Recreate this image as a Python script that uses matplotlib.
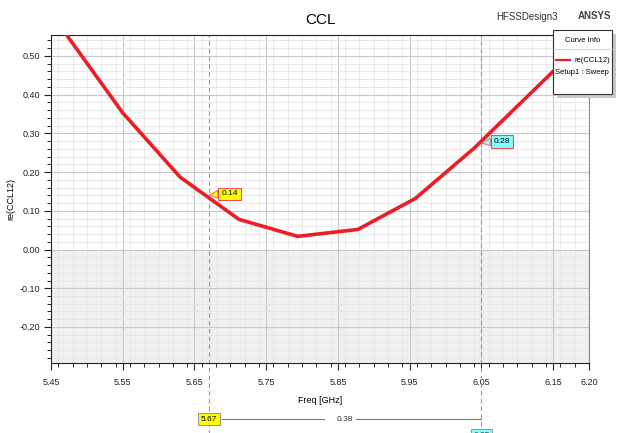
import matplotlib.pyplot as plt
import numpy as np
from matplotlib.patches import Rectangle
from matplotlib.ticker import MultipleLocator

plt.rcParams['font.family'] = ['Liberation Sans', 'DejaVu Sans']

# swept points of re(CCL12)
freq = [5.45, 5.55, 5.63, 5.712, 5.794, 5.878, 5.958, 6.04, 6.12, 6.20]
re_ccl12 = [0.61, 0.353, 0.187, 0.078, 0.034, 0.052, 0.132, 0.262, 0.406, 0.55]

# markers
m1_x, m1_y = 5.67, 0.14
m2_x, m2_y = 6.05, 0.28

fig = plt.figure(figsize=(6.25, 4.33), dpi=100)
ax = fig.add_axes([51 / 625, 1 - 363 / 433, 538 / 625, 328 / 433])

ax.set_xlim(5.45, 6.20)
ax.set_ylim(-0.293, 0.554)

# grey area below zero
ax.axhspan(-1, 0, color='#f0f0f0', zorder=0)

ax.set_xticks([5.45, 5.55, 5.65, 5.75, 5.85, 5.95, 6.05, 6.15, 6.20])
ax.set_xticklabels(['5.45', '5.55', '5.65', '5.75', '5.85', '5.95', '6.05', '6.15', '6.20'])
ax.xaxis.set_minor_locator(MultipleLocator(0.02))
ax.set_yticks([-0.2, -0.1, 0.0, 0.1, 0.2, 0.3, 0.4, 0.5])
ax.set_yticklabels(['-0.20', '-0.10', '0.00', '0.10', '0.20', '0.30', '0.40', '0.50'])
ax.yaxis.set_minor_locator(MultipleLocator(0.02))
ax.tick_params(which='major', direction='out', length=5, width=0.8, labelsize=6.5,
               colors='#222222', pad=3)
ax.tick_params(which='minor', direction='out', length=3, width=0.6)
ax.tick_params(axis='x', which='major', pad=6)
ax.grid(which='major', color='#c8c8c8', lw=0.8, zorder=0.5)
ax.grid(which='minor', color='#e6e6e6', lw=0.6, zorder=0.4)
ax.set_axisbelow(True)
for side in ('left', 'bottom', 'top'):
    ax.spines[side].set_color('#222222')
ax.spines['right'].set_color('#888888')

ax.plot(freq, re_ccl12, color='#ee1c25', lw=2.6, zorder=3, solid_joinstyle='miter')

ax.set_xlabel('Freq [GHz]', fontsize=6.5, labelpad=6)
ax.set_ylabel('re(CCL12)', fontsize=6.5)
ax.yaxis.set_label_coords(-0.066, 0.5)
ax.set_title('CCL', fontsize=11, pad=8)

# marker lines
for mx in (m1_x, m2_x):
    ax.axvline(mx, ymin=-0.215, ymax=1, color='#999999', lw=0.8, ls=(0, (4, 3)),
               clip_on=False, zorder=2)

# marker value flags with a wedge pointing at the curve
for (mx, my, col, dy) in ((m1_x, m1_y, '#ffff00', 0.0), (m2_x, m2_y, '#80ffff', -0.005)):
    ax.annotate(f'{my:.2f}', xy=(mx, my + dy), xytext=(9, 1), textcoords='offset points',
                fontsize=6, va='center', ha='left', zorder=5,
                bbox=dict(boxstyle='square,pad=0.35', fc=col, ec='#ee5050', lw=0.8),
                arrowprops=dict(arrowstyle='wedge,tail_width=0.9,shrink_factor=0.5',
                                fc=col, ec='#ee5050', lw=0.6, relpos=(0, 0.5),
                                shrinkA=0, shrinkB=0))

# delta marker below the axis
yb = -0.171
ax.plot([m1_x + 0.018, 5.83], [yb, yb], transform=ax.get_xaxis_transform(),
        color='#777777', lw=0.8, clip_on=False)
ax.plot([5.875, m2_x], [yb, yb], transform=ax.get_xaxis_transform(),
        color='#777777', lw=0.8, clip_on=False)
ax.text((m1_x + m2_x) / 2, yb, f'{m2_x - m1_x:.2f}', transform=ax.get_xaxis_transform(),
        fontsize=6, ha='center', va='center', color='#333333')
ax.text(m1_x, yb, f'{m1_x:.2f}', transform=ax.get_xaxis_transform(), fontsize=6,
        ha='center', va='center',
        bbox=dict(boxstyle='square,pad=0.3', fc='#ffff00', ec='#999999', lw=0.8))
ax.text(m2_x, -0.22, f'{m2_x:.2f}', transform=ax.get_xaxis_transform(), fontsize=6,
        ha='center', va='center', color='#333333',
        bbox=dict(boxstyle='square,pad=0.3', fc='#80ffff', ec='#999999', lw=0.8))

# header texts
fig.text(527 / 625, 1 - 17 / 433, 'HFSSDesign3', fontsize=7, ha='center', va='center',
         color='#333333')
fig.text(595 / 625, 1 - 16 / 433, 'ANSYS', fontsize=7, ha='center', va='center',
         color='#444444', weight='bold')

# curve info box
lx0, ly0, lw_, lh = 553 / 625, 1 - 94 / 433, 59 / 625, 64 / 433
fig.patches.append(Rectangle((lx0 + 4 / 625, ly0 - 4 / 433), lw_, lh, transform=fig.transFigure,
                             fc='#c8c8c8', ec='none', zorder=9))
fig.patches.append(Rectangle((lx0, ly0), lw_, lh, transform=fig.transFigure,
                             fc='white', ec='#333333', lw=0.8, zorder=10))
fig.text(lx0 + lw_ / 2, 1 - 41 / 433, 'Curve Info', fontsize=5.5, ha='center', va='center',
         zorder=11)
fig.add_artist(plt.Line2D([lx0, lx0 + lw_], [1 - 49 / 433, 1 - 49 / 433],
                          transform=fig.transFigure, color='#cccccc', lw=0.6, zorder=11))
fig.add_artist(plt.Line2D([lx0 + 3 / 625, lx0 + 17 / 625], [1 - 60 / 433, 1 - 60 / 433],
                          transform=fig.transFigure, color='#ee1c25', lw=1.6, zorder=11))
fig.text(lx0 + lw_ - 2 / 625, 1 - 60 / 433, 're(CCL12)', fontsize=5.5, ha='right',
         va='center', zorder=11)
fig.text(lx0 + 2 / 625, 1 - 73 / 433, 'Setup1 : Sweep', fontsize=5.5, ha='left',
         va='center', zorder=11)

fig.savefig('out.png', dpi=100)
